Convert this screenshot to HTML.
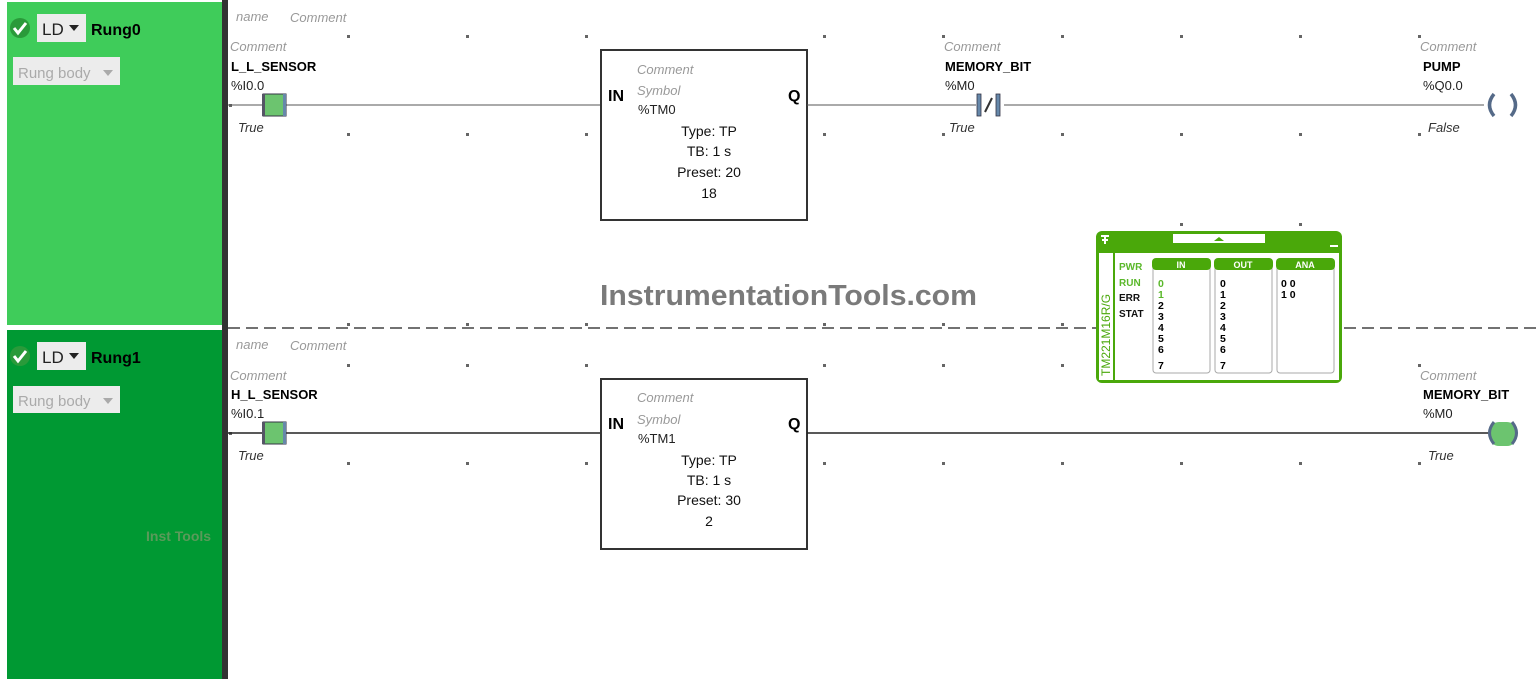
<!DOCTYPE html>
<html><head><meta charset="utf-8"><style>
body{margin:0;width:1536px;height:679px;overflow:hidden;background:#fff;font-family:"Liberation Sans",sans-serif}
svg{display:block}
text{font-family:"Liberation Sans",sans-serif}
.c{font-size:13px;font-style:italic;fill:#999}
.b{font-size:13px;font-weight:bold;fill:#000}
.n{font-size:13px;fill:#222}
.t{font-size:13px;font-style:italic;fill:#333}
.m{font-size:14px;fill:#111}
.s{font-size:10px;font-weight:bold}
</style></head><body>
<svg width="1536" height="679" viewBox="0 0 1536 679">
<rect x="7" y="2" width="215" height="323" fill="#3fcc5a"/>
<rect x="7" y="330" width="215" height="349" fill="#009933"/>
<rect x="222" y="0" width="6" height="679" fill="#333"/>
<circle cx="20" cy="28" r="10" fill="#2a9a3a"/><path d="M14 28l4 5 8-10" stroke="#fff" stroke-width="3" fill="none"/>
<rect x="37" y="14" width="49" height="28" fill="#ececec"/><text x="42" y="35" font-size="17" fill="#222">LD</text><path d="M69 25h10l-5 6z" fill="#222"/>
<text x="91" y="35" font-size="16" font-weight="bold">Rung0</text>
<rect x="13" y="57" width="107" height="28" fill="#ececec"/><text x="18" y="78" font-size="15" fill="#aaa">Rung body</text><path d="M103 70h10l-5 6z" fill="#aaa"/>
<circle cx="20" cy="356" r="10" fill="#2a9a3a"/><path d="M14 356l4 5 8-10" stroke="#fff" stroke-width="3" fill="none"/>
<rect x="37" y="342" width="49" height="28" fill="#ececec"/><text x="42" y="363" font-size="17" fill="#222">LD</text><path d="M69 353h10l-5 6z" fill="#222"/>
<text x="91" y="363" font-size="16" font-weight="bold">Rung1</text>
<rect x="13" y="386" width="107" height="27" fill="#ececec"/><text x="18" y="406" font-size="15" fill="#aaa">Rung body</text><path d="M103 398h10l-5 6z" fill="#aaa"/>
<text x="146" y="541" font-size="14" font-weight="bold" fill="#5a9a5a">Inst Tools</text>
<line x1="228" y1="328" x2="1536" y2="328" stroke="#444" stroke-dasharray="12,6" stroke-width="1.5"/>
<g fill="#666">
<rect x="229" y="104" width="3" height="3"/><rect x="229" y="432" width="3" height="3"/>
<g id="dr">
<rect x="347" y="35" width="3" height="3"/><rect x="466" y="35" width="3" height="3"/><rect x="585" y="35" width="3" height="3"/><rect x="823" y="35" width="3" height="3"/><rect x="942" y="35" width="3" height="3"/><rect x="1061" y="35" width="3" height="3"/><rect x="1180" y="35" width="3" height="3"/><rect x="1299" y="35" width="3" height="3"/><rect x="1418" y="35" width="3" height="3"/>
<rect x="347" y="133" width="3" height="3"/><rect x="466" y="133" width="3" height="3"/><rect x="585" y="133" width="3" height="3"/><rect x="823" y="133" width="3" height="3"/><rect x="942" y="133" width="3" height="3"/><rect x="1061" y="133" width="3" height="3"/><rect x="1180" y="133" width="3" height="3"/><rect x="1299" y="133" width="3" height="3"/><rect x="1418" y="133" width="3" height="3"/>
</g>
<use href="#dr" y="329"/>
<rect x="347" y="323" width="3" height="3"/><rect x="466" y="323" width="3" height="3"/><rect x="585" y="323" width="3" height="3"/><rect x="823" y="323" width="3" height="3"/><rect x="942" y="323" width="3" height="3"/><rect x="1061" y="323" width="3" height="3"/><rect x="1180" y="223" width="3" height="3"/><rect x="1299" y="223" width="3" height="3"/>
</g>
<text x="236" y="21" class="c">name</text><text x="290" y="22" class="c">Comment</text>
<line x1="228" y1="105" x2="601" y2="105" stroke="#555"/>
<text x="230" y="51" class="c">Comment</text><text x="231" y="71" class="b">L_L_SENSOR</text><text x="231" y="90" class="n">%I0.0</text>
<rect x="263" y="94" width="23" height="22" fill="#6cc46f" stroke="#334" stroke-width="1"/><rect x="262" y="94" width="3" height="22" fill="#556"/><rect x="283" y="94" width="3" height="22" fill="#6688aa"/>
<text x="238" y="132" class="t">True</text>
<rect x="601" y="50" width="206" height="170" fill="#fff" stroke="#333" stroke-width="2"/>
<text x="608" y="101" font-size="16" font-weight="bold">IN</text><text x="788" y="101" font-size="16" font-weight="bold">Q</text>
<text x="637" y="74" class="c">Comment</text><text x="637" y="95" class="c">Symbol</text><text x="638" y="114" class="n">%TM0</text>
<text x="709" y="136" class="m" text-anchor="middle">Type:  TP</text><text x="709" y="156" class="m" text-anchor="middle">TB:  1 s</text><text x="709" y="177" class="m" text-anchor="middle">Preset:  20</text><text x="709" y="198" class="m" text-anchor="middle">18</text>
<line x1="807" y1="105" x2="1484" y2="105" stroke="#555"/>
<text x="944" y="51" class="c">Comment</text><text x="945" y="71" class="b">MEMORY_BIT</text><text x="945" y="90" class="n">%M0</text>
<rect x="976" y="94" width="28" height="22" fill="#fff"/><rect x="977" y="94" width="4" height="22" fill="#6688aa" stroke="#334" stroke-width=".8"/><rect x="996" y="94" width="4" height="22" fill="#6688aa" stroke="#334" stroke-width=".8"/><line x1="985" y1="112" x2="992" y2="98" stroke="#333" stroke-width="2"/>
<text x="949" y="132" class="t">True</text>
<text x="1420" y="51" class="c">Comment</text><text x="1423" y="71" class="b">PUMP</text><text x="1423" y="90" class="n">%Q0.0</text>
<path d="M1494 94q-9 11 0 22" stroke="#556a88" stroke-width="3.5" fill="none"/><path d="M1511 94q9 11 0 22" stroke="#556a88" stroke-width="3.5" fill="none"/>
<text x="1428" y="132" class="t">False</text>
<text x="236" y="349" class="c">name</text><text x="290" y="350" class="c">Comment</text>
<line x1="228" y1="433" x2="601" y2="433" stroke="#222" stroke-width="1.5"/>
<text x="230" y="380" class="c">Comment</text><text x="231" y="399" class="b">H_L_SENSOR</text><text x="231" y="418" class="n">%I0.1</text>
<rect x="263" y="422" width="23" height="22" fill="#6cc46f" stroke="#334" stroke-width="1"/><rect x="262" y="422" width="3" height="22" fill="#556"/><rect x="283" y="422" width="3" height="22" fill="#6688aa"/>
<text x="238" y="460" class="t">True</text>
<rect x="601" y="379" width="206" height="170" fill="#fff" stroke="#333" stroke-width="2"/>
<text x="608" y="429" font-size="16" font-weight="bold">IN</text><text x="788" y="429" font-size="16" font-weight="bold">Q</text>
<text x="637" y="402" class="c">Comment</text><text x="637" y="424" class="c">Symbol</text><text x="638" y="443" class="n">%TM1</text>
<text x="709" y="465" class="m" text-anchor="middle">Type:  TP</text><text x="709" y="485" class="m" text-anchor="middle">TB:  1 s</text><text x="709" y="505" class="m" text-anchor="middle">Preset:  30</text><text x="709" y="526" class="m" text-anchor="middle">2</text>
<line x1="807" y1="433" x2="1488" y2="433" stroke="#222" stroke-width="1.5"/>
<text x="1420" y="380" class="c">Comment</text><text x="1423" y="399" class="b">MEMORY_BIT</text><text x="1423" y="418" class="n">%M0</text>
<rect x="1489" y="422" width="28" height="24" rx="10" fill="#6cc46f"/>
<path d="M1494 422q-9 11 0 22" stroke="#556a88" stroke-width="3" fill="none"/><path d="M1512 422q9 11 0 22" stroke="#556a88" stroke-width="3" fill="none"/>
<text x="1428" y="460" class="t">True</text>
<text x="600" y="305" font-size="29" font-weight="bold" fill="#7a7a7a" textLength="377" lengthAdjust="spacingAndGlyphs">InstrumentationTools.com</text>
<rect x="1096" y="231" width="246" height="152" rx="6" fill="#4aa80a"/>
<rect x="1115" y="253" width="224" height="127" fill="#fff"/>
<rect x="1099" y="253" width="14" height="127" fill="#fff"/>
<rect x="1173" y="234" width="92" height="9" fill="#fff"/><path d="M1214 241h10l-5-4z" fill="#4aa80a"/>
<rect x="1330" y="245" width="8" height="2" fill="#fff"/>
<path d="M1101 236h8M1105 236v8M1102 240h6" stroke="#fff" stroke-width="2"/>
<text transform="translate(1110,376) rotate(-90)" font-size="12" fill="#4aa80a">TM221M16R/G</text>
<text x="1119" y="270" class="s" fill="#5ab82a">PWR</text><text x="1119" y="286" class="s" fill="#5ab82a">RUN</text><text x="1119" y="301" class="s" fill="#111">ERR</text><text x="1119" y="317" class="s" fill="#111">STAT</text>
<g fill="#fff" stroke="#aaa"><rect x="1153" y="262" width="57" height="111" rx="3"/><rect x="1215" y="262" width="57" height="111" rx="3"/><rect x="1277" y="262" width="57" height="111" rx="3"/></g>
<g fill="#4aa80a"><rect x="1152" y="258" width="59" height="12" rx="4"/><rect x="1214" y="258" width="59" height="12" rx="4"/><rect x="1276" y="258" width="59" height="12" rx="4"/></g>
<g font-size="9" font-weight="bold" fill="#fff" text-anchor="middle"><text x="1181" y="268">IN</text><text x="1243" y="268">OUT</text><text x="1305" y="268">ANA</text></g>
<g font-size="10.5" font-weight="bold">
<text x="1158" y="287" fill="#5ab82a">0</text><text x="1158" y="298" fill="#5ab82a">1</text>
<text x="1158" y="309">2</text><text x="1158" y="320">3</text><text x="1158" y="331">4</text><text x="1158" y="342">5</text><text x="1158" y="353">6</text><text x="1158" y="369">7</text>
<text x="1220" y="287">0</text><text x="1220" y="298">1</text><text x="1220" y="309">2</text><text x="1220" y="320">3</text><text x="1220" y="331">4</text><text x="1220" y="342">5</text><text x="1220" y="353">6</text><text x="1220" y="369">7</text>
<text x="1281" y="287">0 0</text><text x="1281" y="298">1 0</text>
</g>
</svg>
</body></html>
